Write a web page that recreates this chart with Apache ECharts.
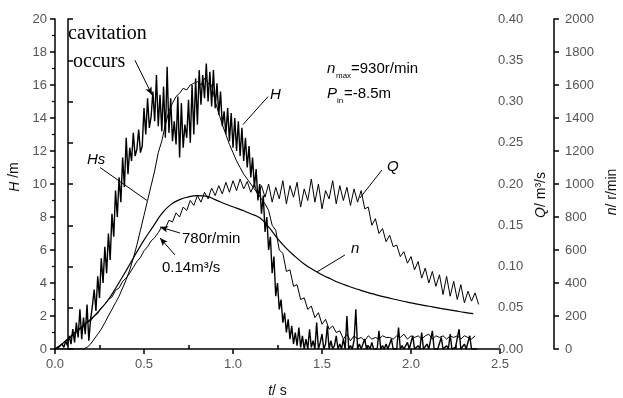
<!DOCTYPE html>
<html>
<head>
<meta charset="utf-8">
<script src="https://cdn.jsdelivr.net/npm/echarts@6/dist/echarts.min.js"></script>
<style>
  html, body { margin: 0; padding: 0; background: #fff; }
  #chart { width: 623px; height: 398px; }
</style>
</head>
<body>
<div id="chart"></div>
<script>
// H (head, m), sampled every 0.01 s from t = 0
const hStep = 0.01;
const hValues = [
  0, 0, 0.1, 0, 0.3, 0.1, 0.5, 0.2, 0.8, 0.3,
  1.2, 0.4, 1.6, 0.7, 2.4, 0.6, 1.9, 0.9, 2.7, 0.5,
  1.8, 2.6, 3.6, 2.3, 4.4, 3.1, 5.5, 4.0, 6.2, 4.6,
  7.0, 5.4, 8.2, 6.8, 9.6, 8.0, 10.4, 8.9, 11.6, 9.8,
  12.8, 10.6, 12.2, 11.4, 13.1, 11.7, 12.1, 13.3, 11.9, 12.3,
  14.6, 13.0, 15.2, 13.4, 14.1, 15.6, 13.8, 16.6, 13.5, 15.4,
  13.2, 15.9, 12.8, 17.1, 13.1, 15.2, 12.6, 13.8, 12.4, 15.3,
  11.6, 14.9, 12.2, 13.6, 12.8, 15.1, 12.5, 16.0, 13.0, 16.4,
  13.6, 16.9, 14.8, 16.6, 15.2, 17.3, 15.0, 16.8, 14.7, 16.9,
  14.6, 16.1, 14.2, 15.6, 13.5, 14.4, 13.0, 14.6, 12.6, 14.3,
  12.2, 14.0, 12.0, 13.8, 11.7, 13.4, 11.4, 12.8, 11.0, 12.3,
  10.4, 11.6, 9.8, 10.9, 9.0, 10.0, 8.2, 9.3, 7.1, 8.0,
  6.0, 6.8, 4.6, 5.6, 3.2, 4.0, 2.4, 3.0, 1.6, 2.2,
  1.0, 1.8, 0.6, 1.4, 0.3, 1.0, 0.2, 1.3, 0.1, 0.8,
  0, 0.6, 0, 1.2, 0.1, 0.5, 0, 1.6, 0, 0.4,
  0.9, 0, 0.3, 1.4, 0, 0.5, 0, 0.2, 0.8, 0,
  0.3, 0, 0.6, 0, 2.0, 0, 0.2, 0, 0.5, 2.4,
  0, 0.3, 0, 0.1, 0.6, 0, 0.2, 0, 0.4, 0,
  0.1, 0, 1.1, 0, 0.2, 0, 0.3, 0, 0, 0.6,
  0, 0.1, 0, 1.3, 0, 0.2, 0, 0, 0.4, 0,
  0, 0.8, 0, 0, 0.2, 0, 1.0, 0, 0, 0.3,
  0, 0, 1.1, 0, 0.1, 0, 0, 0.7, 0, 0,
  0.2, 0, 0.9, 0, 0, 0.1, 0, 1.2, 0, 0,
  0.3, 0, 0, 0.8, 0, 0.1, 0, 0
];

// Hs, sampled every 0.02 s
const hsStep = 0.02;
const hsValues = [
  0, 0, 0, 0, 0, 0, 0, 0, 0, 0.1,
  0.3, 0.6, 0.9, 1.2, 1.6, 2.0, 2.4, 2.8, 3.2, 3.7,
  4.2, 4.8, 5.5, 6.3, 7.2, 8.1, 9.0, 9.9, 10.8, 11.9,
  12.6, 13.6, 14.4, 14.9, 15.3, 15.5, 15.8, 15.7, 16.0, 16.1,
  16.2, 16.0, 16.4, 16.1, 16.0, 15.0, 14.3, 13.6, 13.0, 12.4,
  11.9, 11.4, 11.0, 10.6, 10.3, 10.0, 9.7, 9.4, 9.1, 8.8,
  8.4, 7.5, 7.2, 6.0, 5.8, 4.7, 4.8, 3.8, 3.9, 3.0,
  3.1, 2.4, 2.6, 1.9, 2.2, 1.5, 1.8, 1.2, 1.4, 1.0,
  1.1, 0.6, 0.9, 0.5, 0.8, 0.6, 0.7, 0.5, 0.8, 0.6,
  0.7, 0.6, 0.8, 0.7, 0.7, 0.6, 0.8, 0.7, 0.9, 0.6,
  0.8, 0.7, 0.8, 0.6, 0.8, 0.9, 0.6, 0.8, 0.7, 0.8,
  0.6, 0.8, 0.7, 0.8, 0.6, 0.8, 0.7, 0.6, 0.8
];

// Q (flow, m3/s), sampled every 0.02 s
const qStep = 0.02;
const qValues = [
  0, 0.003, 0.006, 0.010, 0.012, 0.017, 0.019, 0.024, 0.027, 0.033,
  0.034, 0.040, 0.043, 0.050, 0.054, 0.060, 0.063, 0.071, 0.074, 0.082,
  0.086, 0.092, 0.099, 0.106, 0.111, 0.119, 0.124, 0.131, 0.135, 0.141,
  0.148, 0.146, 0.156, 0.154, 0.165, 0.160, 0.172, 0.168, 0.180, 0.174,
  0.186, 0.178, 0.190, 0.182, 0.195, 0.186, 0.198, 0.188, 0.202, 0.190,
  0.204, 0.192, 0.206, 0.194, 0.203, 0.190, 0.200, 0.186, 0.198, 0.184,
  0.200, 0.178, 0.196, 0.182, 0.204, 0.176, 0.198, 0.184, 0.202, 0.172,
  0.194, 0.180, 0.206, 0.178, 0.200, 0.170, 0.192, 0.182, 0.204, 0.176,
  0.198, 0.180, 0.196, 0.174, 0.194, 0.178, 0.192, 0.170, 0.172, 0.150,
  0.158, 0.140, 0.146, 0.130, 0.138, 0.124, 0.126, 0.112, 0.118, 0.104,
  0.112, 0.096, 0.106, 0.086, 0.098, 0.080, 0.094, 0.076, 0.090, 0.066,
  0.088, 0.064, 0.082, 0.060, 0.078, 0.056, 0.070, 0.058, 0.068, 0.054
];

// n (speed, r/min), sampled every 0.05 s
const nStep = 0.05;
const nValues = [
  0, 40, 90, 135, 180, 235, 300, 385, 475, 570,
  660, 740, 820, 875, 905, 922, 930, 926, 905, 882,
  862, 842, 820, 795, 740, 670, 610, 560, 515, 480,
  450, 424, 400, 380, 362, 345, 330, 316, 303, 291,
  280, 269, 259, 249, 240, 231, 222, 214
];

// leader lines in (t, H) units: [from, to, arrow at end]
const leaders = [
  [[0.449, 17.5], [0.545, 15.4], true],   // cavitation occurs
  [[1.197, 15.3], [1.056, 13.6], false],  // H
  [[0.253, 11.0], [0.517, 9.0], false],   // Hs
  [[1.837, 10.85], [1.713, 9.15], false], // Q
  [[1.629, 5.7], [1.472, 4.67], false],   // n
  [[0.702, 7.03], [0.59, 7.39], true],    // 780r/min
  [[0.674, 5.7], [0.59, 6.73], true]      // 0.14m3/s
];

const toPairs = (vals, step) => vals.map((v, i) => [+(i * step).toFixed(3), v]);

const FONT = "'Liberation Sans', Arial, sans-serif";
const SERIF = "'Liberation Serif', 'Times New Roman', serif";
const black = { color: '#000', width: 1.5 };

const nameStyle = (padding) => ({
  color: '#111', fontSize: 14, fontFamily: FONT, padding: padding,
  rich: { i: { fontStyle: 'italic', fontSize: 14, fontFamily: FONT, color: '#111' } }
});
const labelStyle = { color: '#555', fontSize: 13, fontFamily: FONT };

const mychart = echarts.init(document.getElementById('chart'));

const option = {
  animation: false,
  backgroundColor: '#fff',
  grid: { left: 55, right: 123, top: 19, bottom: 49, outerBoundsMode: 'none' },
  xAxis: [
    {
      type: 'value', min: 0, max: 2.5, interval: 0.5, position: 'bottom',
      axisLine: { show: true, lineStyle: black },
      axisTick: { show: true, length: 5, lineStyle: black },
      splitLine: { show: false },
      axisLabel: { ...labelStyle, margin: 9, formatter: v => v.toFixed(1) },
      name: '{i|t}/ s', nameLocation: 'middle', nameGap: 35, nameTextStyle: nameStyle(0)
    },
    {
      // inward minor ticks
      type: 'value', min: 0, max: 2.5, position: 'bottom',
      axisLine: { show: false },
      axisLabel: { show: false },
      splitLine: { show: false },
      axisTick: { show: true, inside: true, length: 4, lineStyle: black,
        customValues: [0.25, 0.75, 1.25, 1.75, 2.25] }
    }
  ],
  yAxis: [
    {
      type: 'value', min: 0, max: 20, interval: 2, position: 'left',
      axisLine: { show: true, lineStyle: black },
      axisTick: { show: true, length: 5, lineStyle: black },
      minorTick: { show: true, splitNumber: 2, length: 3, lineStyle: { color: '#000', width: 1.2 } },
      splitLine: { show: false },
      axisLabel: { ...labelStyle, margin: 8 },
      name: '{i|H} /m', nameLocation: 'middle', nameRotate: 90, nameGap: 30,
      nameTextStyle: nameStyle([0, 0, 0, 14])
    },
    {
      type: 'value', min: 0, max: 0.4, interval: 0.05, position: 'right', offset: -13,
      axisLine: { show: true, lineStyle: black },
      axisTick: { show: true, length: 5, lineStyle: black },
      splitLine: { show: false },
      axisLabel: { ...labelStyle, margin: 11, formatter: v => v.toFixed(2) },
      name: '{i|Q}/ m³/s', nameLocation: 'middle', nameRotate: 90, nameGap: 40,
      nameTextStyle: nameStyle([0, 22, 0, 0])
    },
    {
      type: 'value', min: 0, max: 2000, interval: 200, position: 'right', offset: 54,
      axisLine: { show: true, lineStyle: black },
      axisTick: { show: true, length: 5, lineStyle: black },
      splitLine: { show: false },
      axisLabel: { ...labelStyle, margin: 11, formatter: v => String(v) },
      name: '{i|n}/ r/min', nameLocation: 'middle', nameRotate: 90, nameGap: 47,
      nameTextStyle: nameStyle([0, 16, 0, 0])
    }
  ],
  series: [
    {
      name: 'H', type: 'line', xAxisIndex: 0, yAxisIndex: 0,
      data: toPairs(hValues, hStep), symbol: 'none', z: 3,
      lineStyle: { color: '#000', width: 1.4 },
      markLine: {
        silent: true, animation: false,
        symbol: ['none', 'none'], symbolSize: 7,
        label: { show: false },
        lineStyle: { color: '#000', width: 1, type: 'solid' },
        emphasis: { disabled: true },
        data: leaders.map(([a, b, arrow]) => [
          { coord: a, symbol: 'none' },
          { coord: b, symbol: arrow ? 'arrow' : 'none', symbolSize: arrow ? [5, 8] : 0 }
        ])
      }
    },
    {
      name: 'Hs', type: 'line', xAxisIndex: 0, yAxisIndex: 0,
      data: toPairs(hsValues, hsStep), symbol: 'none',
      lineStyle: { color: '#000', width: 1 }
    },
    {
      name: 'Q', type: 'line', xAxisIndex: 0, yAxisIndex: 1,
      data: toPairs(qValues, qStep), symbol: 'none',
      lineStyle: { color: '#000', width: 1 }
    },
    {
      name: 'n', type: 'line', xAxisIndex: 0, yAxisIndex: 2,
      data: toPairs(nValues, nStep), symbol: 'none', smooth: true,
      lineStyle: { color: '#000', width: 1.2 }
    }
  ],
  graphic: [
    { type: 'text', left: 68, top: 24, style: { text: 'cavitation', font: '20px ' + SERIF, fill: '#000' } },
    { type: 'text', left: 73, top: 52, style: { text: 'occurs', font: '20px ' + SERIF, fill: '#000' } },
    { type: 'text', left: 270, top: 87, style: { text: 'H', font: 'italic 15px ' + FONT, fill: '#000' } },
    { type: 'text', left: 87, top: 152, style: { text: 'Hs', font: 'italic 15px ' + FONT, fill: '#000' } },
    { type: 'text', left: 327, top: 61, style: { text: 'n', font: 'italic 15px ' + FONT, fill: '#000' } },
    { type: 'text', left: 336, top: 72, style: { text: 'max', font: '8px ' + FONT, fill: '#000' } },
    { type: 'text', left: 351, top: 61, style: { text: '=930r/min', font: '15px ' + FONT, fill: '#000' } },
    { type: 'text', left: 327, top: 86, style: { text: 'P', font: 'italic 15px ' + FONT, fill: '#000' } },
    { type: 'text', left: 337, top: 97, style: { text: 'in', font: '8px ' + FONT, fill: '#000' } },
    { type: 'text', left: 344, top: 86, style: { text: '=-8.5m', font: '15px ' + FONT, fill: '#000' } },
    { type: 'text', left: 387, top: 159, style: { text: 'Q', font: 'italic 15px ' + FONT, fill: '#000' } },
    { type: 'text', left: 351, top: 241, style: { text: 'n', font: 'italic 15px ' + FONT, fill: '#000' } },
    { type: 'text', left: 182, top: 231, style: { text: '780r/min', font: '15px ' + FONT, fill: '#000' } },
    { type: 'text', left: 162, top: 260, style: { text: '0.14m³/s', font: '15px ' + FONT, fill: '#000' } }
  ]
};

mychart.setOption(option);
</script>
</body>
</html>
